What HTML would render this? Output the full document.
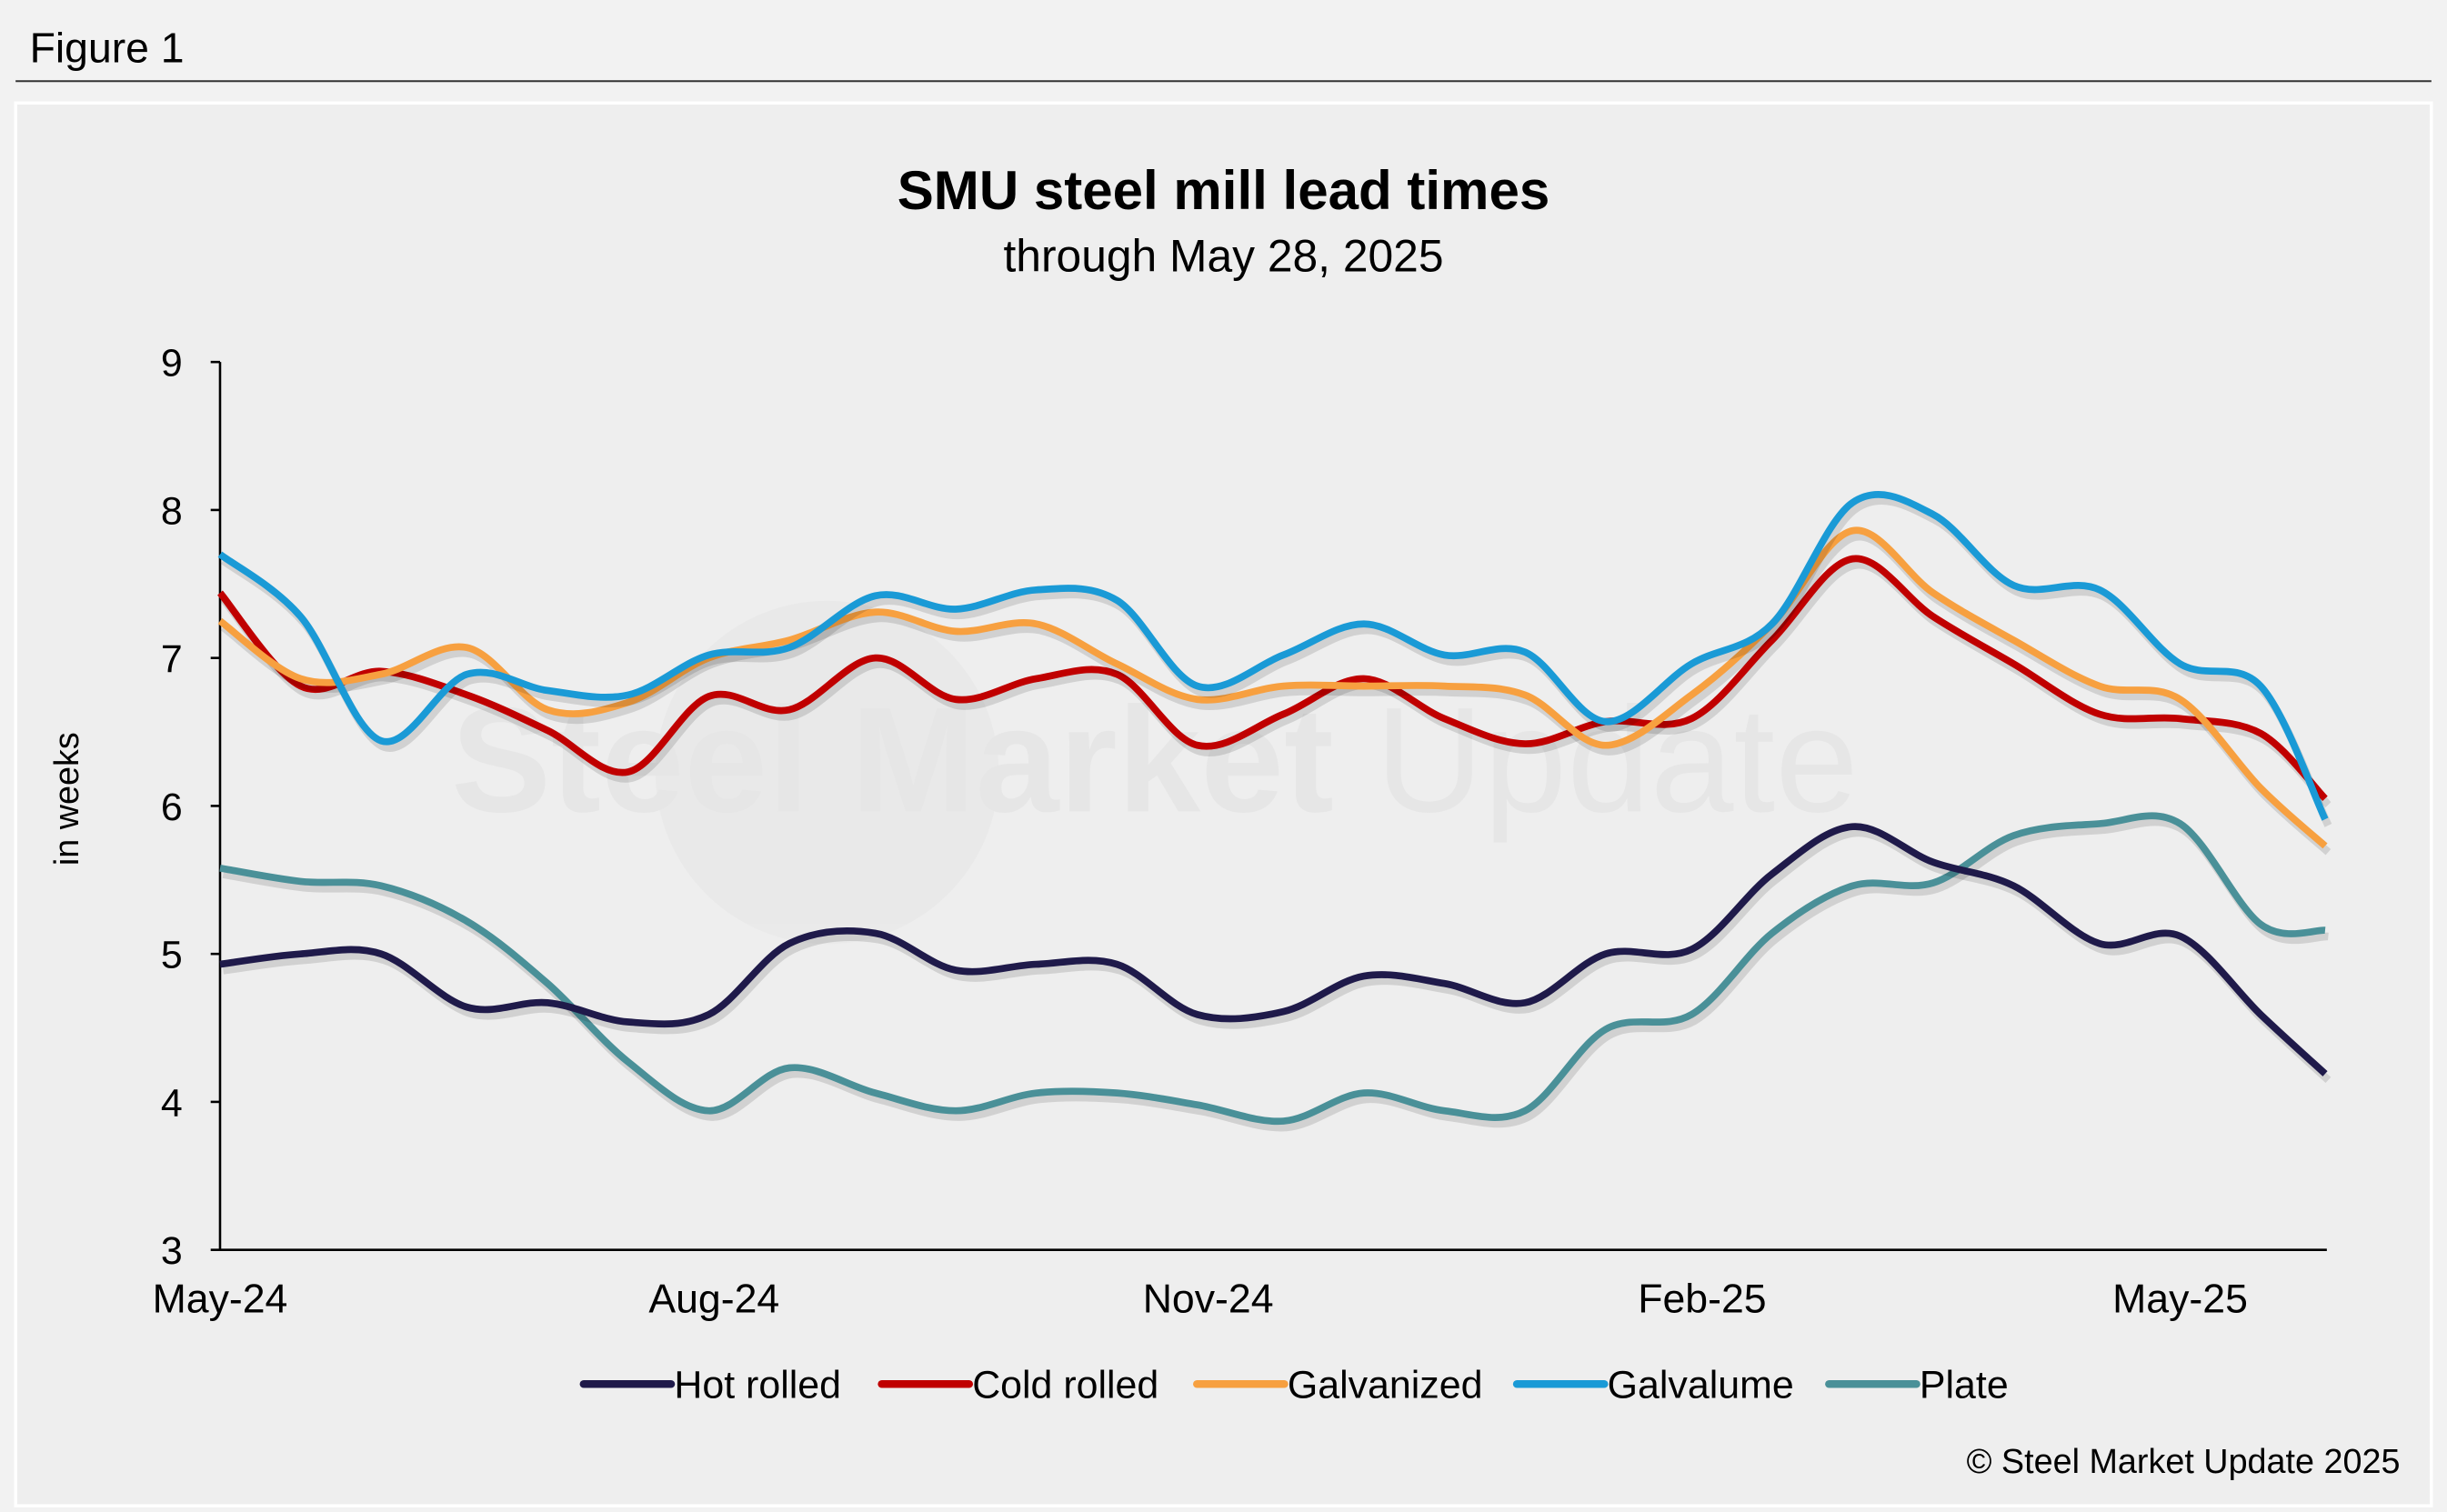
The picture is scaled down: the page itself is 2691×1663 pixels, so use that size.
<!DOCTYPE html>
<html><head><meta charset="utf-8"><style>
html,body{margin:0;padding:0;background:#f2f2f2;}
svg{display:block;font-family:"Liberation Sans",Arial,sans-serif;}
</style></head><body>
<svg id="chart" width="2691" height="1663" viewBox="0 0 1568 969" xmlns="http://www.w3.org/2000/svg">
<rect x="0" y="0" width="1568" height="969" fill="#f2f2f2"/>
<text x="19" y="40" font-size="27" fill="#000">Figure 1</text>
<line x1="10" y1="52" x2="1558" y2="52" stroke="#333" stroke-width="1.2"/>
<rect x="10" y="66" width="1548" height="899" fill="#eeeeee" stroke="#ffffff" stroke-width="2"/>
<g opacity="0.5">
<circle cx="530" cy="495" r="110" fill="#e6e6e6"/>
<text x="740" y="520" font-size="96" font-weight="bold" fill="#e0e0e0" text-anchor="middle">Steel Market <tspan font-weight="normal">Update</tspan></text>
</g>
<text x="784" y="134" font-size="35" font-weight="bold" text-anchor="middle" fill="#000">SMU steel mill lead times</text>
<text x="784" y="174" font-size="29" text-anchor="middle" fill="#000">through May 28, 2025</text>
<text transform="translate(50,512) rotate(-90)" font-size="22" text-anchor="middle" fill="#000">in weeks</text>
<g id="axes"></g>
<g id="series"></g>
<g id="legend"></g>
<text x="1538" y="944" font-size="22" text-anchor="end" fill="#000">© Steel Market Update 2025</text>
</svg>
<script>
const yTicks = [3,4,5,6,7,8,9];
const xTickLabels = ["May-24","Aug-24","Nov-24","Feb-25","May-25"];
const xTickDays = [0,92,184,276,365];
const dayIdx = [0,15,30,46,61,76,91,106,122,137,152,167,182,198,213,228,243,258,274,289,304,319,334,350,365,380,392];
const hotRolled = [4.93,5.0,5.0,4.64,4.67,4.54,4.59,5.07,5.14,4.89,4.93,4.93,4.59,4.61,4.85,4.8,4.67,5.0,5.03,5.54,5.86,5.62,5.46,5.07,5.12,4.59,4.19];
const coldRolled = [7.44,6.81,6.91,6.75,6.51,6.23,6.74,6.65,7.0,6.72,6.86,6.89,6.41,6.62,6.86,6.59,6.42,6.57,6.59,7.12,7.67,7.28,6.96,6.62,6.59,6.49,6.05];
const galvanized = [7.25,6.86,6.89,7.07,6.65,6.7,7.0,7.12,7.31,7.18,7.23,6.96,6.72,6.81,6.81,6.81,6.75,6.41,6.75,7.23,7.86,7.44,7.12,6.81,6.72,6.12,5.73];
const galvalume = [7.7,7.28,6.44,6.89,6.78,6.75,7.02,7.07,7.42,7.33,7.46,7.39,6.81,7.02,7.23,7.02,7.04,6.57,6.96,7.23,8.05,7.97,7.49,7.46,6.96,6.81,5.91];
const plate = [5.58,5.49,5.46,5.22,4.8,4.27,3.94,4.23,4.06,3.94,4.06,4.06,3.98,3.87,4.06,3.94,3.94,4.49,4.59,5.14,5.46,5.48,5.8,5.88,5.88,5.2,5.16];
const seriesNames = ["Hot rolled","Cold rolled","Galvanized","Galvalume","Plate"];
const seriesData = [hotRolled,coldRolled,galvanized,galvalume,plate];
const seriesColors = ["#1f1a4a","#c00000","#f7a040","#1a9ad6","#4a9098"];

const NS="http://www.w3.org/2000/svg";
const X0=141,X1=1491,Y0=801,Y1=232;
const xScale=d=>X0+d*(1256/365);
const yScale=v=>Y0-(v-3)*(Y0-Y1)/6;
function mk(t,a,p){const e=document.createElementNS(NS,t);for(const k in a)e.setAttribute(k,a[k]);p.appendChild(e);return e;}
const axes=document.getElementById('axes');
const yAxis=mk('line',{x1:X0,y1:Y1,x2:X0,y2:Y0,stroke:'#000','stroke-width':1.5},axes);


const xAxis=mk('line',{x1:X0,y1:Y0,x2:X1,y2:Y0,stroke:'#000','stroke-width':1.5},axes);


yTicks.forEach(v=>{
  const tk=mk('line',{x1:X0-6,y1:yScale(v),x2:X0,y2:yScale(v),stroke:'#000','stroke-width':1.5},axes);
  
  
  const t=mk('text',{x:X0-24,y:yScale(v)+9,'font-size':25,'text-anchor':'end'},axes);
  t.textContent=v;
  
  
});
xTickLabels.forEach((l,i)=>{
  const t=mk('text',{x:xScale(xTickDays[i]),y:841,'font-size':26,'text-anchor':'middle'},axes);
  t.textContent=l;
  
  
});
function smoothPath(pts){
  let d=`M${pts[0][0]},${pts[0][1]}`;
  for(let i=0;i<pts.length-1;i++){
    const p0=pts[Math.max(0,i-1)],p1=pts[i],p2=pts[i+1],p3=pts[Math.min(pts.length-1,i+2)];
    const c1x=p1[0]+(p2[0]-p0[0])/6,c1y=p1[1]+(p2[1]-p0[1])/6;
    const c2x=p2[0]-(p3[0]-p1[0])/6,c2y=p2[1]-(p3[1]-p1[1])/6;
    d+=` C${c1x},${c1y} ${c2x},${c2y} ${p2[0]},${p2[1]}`;
  }
  return d;
}
const sg=document.getElementById('series');
const order=[4,0,1,2,3];
order.forEach(i=>{
  const pts=seriesData[i].map((v,k)=>[xScale(dayIdx[k]),yScale(v)]);
  const d=smoothPath(pts);
  const sh=mk('path',{d:d,fill:'none',stroke:'rgba(0,0,0,0.12)','stroke-width':5,transform:'translate(2,4)'},sg);
  
  
  const p=mk('path',{d:d,fill:'none',stroke:seriesColors[i],'stroke-width':4.5,'stroke-linejoin':'round'},sg);
  
  
});
const lg=document.getElementById('legend');
const legX=[374,565,767,972,1172];
seriesNames.forEach((n,i)=>{
  const g=mk('g',{},lg);
  
  
  mk('line',{x1:legX[i],y1:887,x2:legX[i]+56,y2:887,stroke:seriesColors[i],'stroke-width':5,'stroke-linecap':'round'},g);
  const t=mk('text',{x:legX[i]+58,y:896,'font-size':25},g);
  t.textContent=n;
});
</script>
</body></html>
